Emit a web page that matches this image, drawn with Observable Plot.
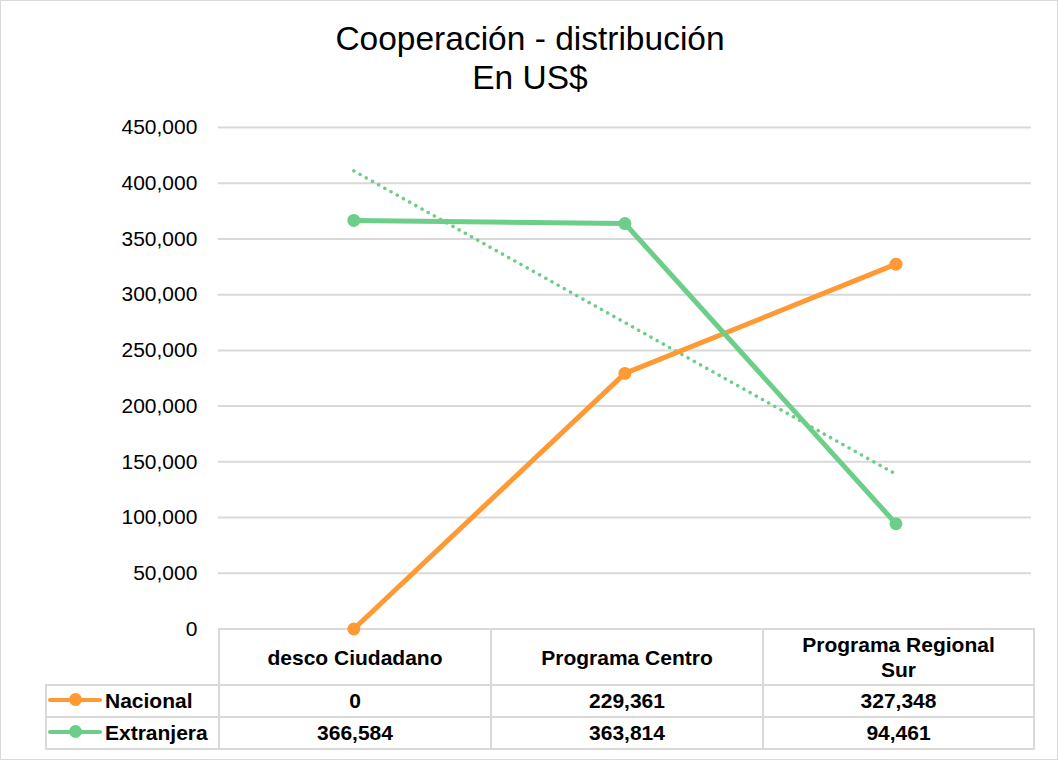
<!DOCTYPE html>
<html>
<head>
<meta charset="utf-8">
<script src="https://cdn.jsdelivr.net/npm/d3@7"></script>
<script src="https://cdn.jsdelivr.net/npm/@observablehq/plot@0.6"></script>
<style>
  body { margin: 0; background: #fff; font-family: "Liberation Sans", Arial, sans-serif; }
  #chart { position: relative; width: 1058px; height: 760px; box-sizing: border-box; border: 1px solid #d9d9d9; overflow: hidden; }
  #title { position: absolute; top: 18px; left: 0; width: 1058px; text-align: center; font-size: 33.5px; line-height: 39px; color: #000; }
  #plot { position: absolute; top: 108px; left: -1px; z-index: 2; }
  #plot svg { overflow: visible; }
  table { position: absolute; top: 627px; left: 44px; border-collapse: collapse; z-index: 1; table-layout: fixed; }
  td { border: 2px solid #d9d9d9; font-weight: bold; font-size: 21px; text-align: center; padding: 0 30px; color: #000; }
  td.blank { border-top: none; border-left: none; }
  td.lab { text-align: left; padding: 0 0 0 1px; white-space: nowrap; }
  .key { display: inline-block; position: relative; width: 54px; height: 4px; vertical-align: middle; margin-right: 3px; top: -2px; border-radius: 2px; }
  .key::after { content: ""; position: absolute; left: 21px; top: -5px; width: 13px; height: 13px; border-radius: 50%; background: inherit; }
</style>
</head>
<body>
<div id="chart">
  <div id="title">Cooperación - distribución<br>En US$</div>
  <div id="plot"></div>
</div>
<script>
const categories = ["desco Ciudadano", "Programa Centro", "Programa Regional Sur"];
const seriesNames = ["Nacional", "Extranjera"];
const nacional = [0, 229361, 327348];
const extranjera = [366584, 363814, 94461];
const yTicks = [0, 50000, 100000, 150000, 200000, 250000, 300000, 350000, 400000, 450000];
const colors = ["#FF9933", "#6DCE8A"];

const fmt = d3.format(",");
const rows = [];
categories.forEach((c, i) => {
  rows.push({series: "Nacional", i: i + 1, cat: c, value: nacional[i]});
  rows.push({series: "Extranjera", i: i + 1, cat: c, value: extranjera[i]});
});
const ext = rows.filter(d => d.series === "Extranjera");
const nac = rows.filter(d => d.series === "Nacional");

const plot = Plot.plot({
  width: 1058,
  height: 521,
  marginLeft: 218,
  marginRight: 26,
  marginTop: 18,
  marginBottom: 1,
  style: {fontFamily: "'Liberation Sans', Arial, sans-serif", fontSize: "21px", color: "#000", background: "transparent", overflow: "visible"},
  x: {domain: [0.5, 3.5], axis: null},
  y: {domain: [0, 450000], ticks: yTicks, tickFormat: fmt, tickSize: 0, tickPadding: 21, label: null},
  marks: [
    Plot.ruleY(yTicks, {stroke: "#d9d9d9", strokeWidth: 2}),
    Plot.linearRegressionY(ext, {x: "i", y: "value", ci: 0, stroke: colors[1], strokeWidth: 3.5, strokeDasharray: "0.1 7", strokeLinecap: "round"}),
    Plot.line(nac, {x: "i", y: "value", stroke: colors[0], strokeWidth: 5}),
    Plot.line(ext, {x: "i", y: "value", stroke: colors[1], strokeWidth: 5}),
    Plot.dot(nac, {x: "i", y: "value", fill: colors[0], r: 6.5}),
    Plot.dot(ext, {x: "i", y: "value", fill: colors[1], r: 6.5})
  ]
});
document.getElementById("plot").appendChild(plot);

// data table below the plot
const table = document.createElement("table");
const colgroup = document.createElement("colgroup");
[173, 272, 272, 271].forEach(w => { const c = document.createElement("col"); c.style.width = w + "px"; colgroup.appendChild(c); });
table.appendChild(colgroup);
const head = document.createElement("tr");
head.style.height = "56px";
const blank = document.createElement("td"); blank.className = "blank"; head.appendChild(blank);
categories.forEach(c => { const td = document.createElement("td"); td.textContent = c; td.style.lineHeight = "25px"; head.appendChild(td); });
table.appendChild(head);
[nacional, extranjera].forEach((vals, k) => {
  const tr = document.createElement("tr");
  tr.style.height = "32px";
  const lab = document.createElement("td"); lab.className = "lab";
  const key = document.createElement("span"); key.className = "key"; key.style.background = colors[k];
  lab.appendChild(key); lab.appendChild(document.createTextNode(seriesNames[k]));
  tr.appendChild(lab);
  vals.forEach(v => { const td = document.createElement("td"); td.textContent = fmt(v); tr.appendChild(td); });
  table.appendChild(tr);
});
document.getElementById("chart").appendChild(table);
</script>
</body>
</html>
